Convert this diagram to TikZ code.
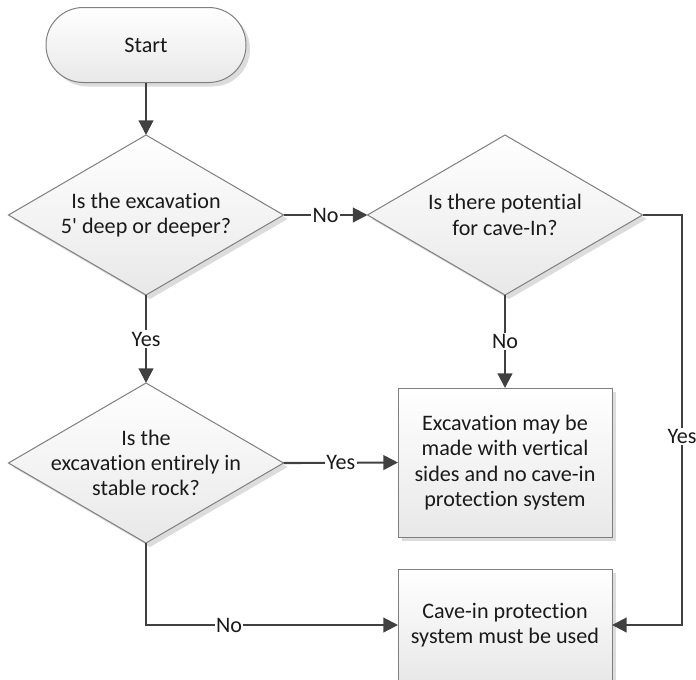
\documentclass[tikz,border=0pt]{standalone}
\usepackage{fontspec}
\setmainfont{Carlito}[Ligatures={NoCommon,NoContextual}, RawFeature=-liga, RawFeature=-calt]
\usetikzlibrary{shapes.geometric,arrows.meta,shadows}
\definecolor{conncol}{HTML}{404040}
\definecolor{bordercol}{HTML}{7F7F7F}
\definecolor{txtcol}{HTML}{1A1A1A}
\begin{document}
\begin{tikzpicture}[x=0.75pt,y=-0.75pt,
  font=\fontsize{16.6}{19}\selectfont,
  every node/.style={text=txtcol},
  shapebase/.style={draw=bordercol, line width=0.75pt, top color=white, bottom color=black!9,
    outer sep=0pt, inner sep=0pt,
    drop shadow={shadow xshift=3pt, shadow yshift=-3pt, fill=black!30, opacity=0.45}},
  terminal/.style={shapebase, rectangle, rounded corners=28pt, minimum width=150pt, minimum height=56.25pt},
  decision/.style={shapebase, diamond, minimum width=206.25pt, minimum height=120pt},
  process/.style={shapebase, rectangle, minimum width=160.5pt},
  txt/.style={align=center, inner sep=0pt},
  conn/.style={draw=conncol, line width=1.6pt, -{Triangle[length=11pt,width=11pt]}},
  lbl/.style={fill=white, inner sep=1pt, text=txtcol}
]
\useasboundingbox (0,0) rectangle (696,679);

\node[terminal] (start) at (146,45) {};
\node[txt] (startt) at (start) {Start};

\node[decision] (d1) at (146,215) {};
\node[txt] (d1t) at (d1) {Is the excavation\\5\textquotesingle\ deep or deeper?};

\node[decision] (d2) at (505,215) {};
\node[txt] (d2t) at (d2) {Is there potential\\for cave-In?};

\node[decision] (d3) at (146,463) {};
\node[txt] (d3t) at (d3) {Is the\\excavation entirely in\\stable rock?};

\node[process, minimum height=111.75pt] (b1) at (505,462.5) {};
\node[txt] (b1t) at (b1) {Excavation may be\\made with vertical\\sides and no cave-in\\protection system};

\node[process, minimum height=84pt] (b2) at (505,625) {};
\node[txt] (b2t) at (b2) {Cave-in protection\\system must be used};

\coordinate (r) at (682,0);

\draw[conn] (start) -- (d1);
\draw[conn] (d1.east) -- node[lbl] {No} (d2.west);
\draw[conn] (d1.south) -- node[lbl] {Yes} (d3.north);
\draw[conn] (d2.south) -- node[lbl] {No} (b1.north);
\draw[conn] (d3.east) -- node[lbl] {Yes} (b1.west);
\draw[conn] (d3.south) |- node[lbl, pos=0.665] {No} (b2.west);
\draw[conn] (d2.east) -- (d2.east -| r) -- node[lbl, pos=0.54] {Yes} (b2.east -| r) -- (b2.east);
\end{tikzpicture}
\end{document}
